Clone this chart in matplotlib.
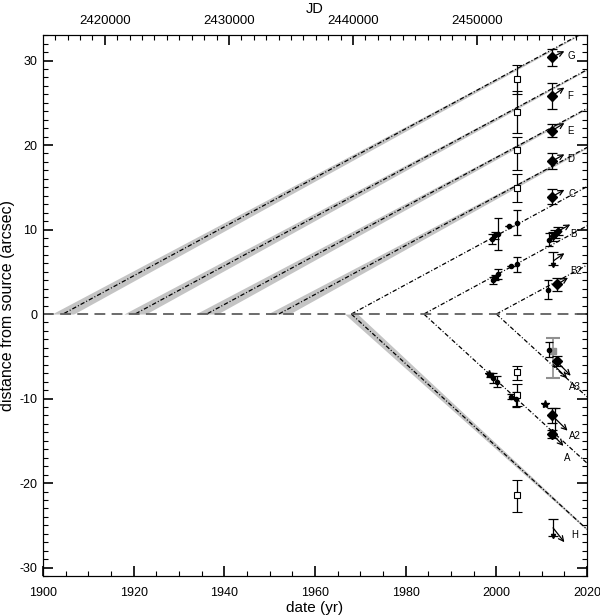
import numpy as np
import matplotlib
matplotlib.use('Agg')
import matplotlib.pyplot as plt
from matplotlib.ticker import MultipleLocator

plt.rcParams['font.family'] = ['Liberation Sans', 'DejaVu Sans']
plt.rcParams['axes.unicode_minus'] = False

# knot tracks: ejection year and proper motion (arcsec/yr)
t0_up = [1904.4, 1920.3, 1936.1, 1952.0, 1968.0, 1984.0, 2000.0]   # G F E D C B B2
band_up = [True, True, True, True, False, False, False]
mu_up = 0.29
t0_down = [1968.0, 1984.0, 2000.0]   # A(band) A A3
band_down = [True, False, False]
mu_down = -0.49

# open squares (epoch ~2004.5)
sq_x = [2004.5, 2004.5, 2004.5, 2004.5, 2004.5, 2004.5, 2004.5]
sq_y = [27.8, 23.9, 19.4, 14.9, -6.9, -9.6, -21.4]
sq_lo = [1.8, 2.5, 2.4, 1.6, 0.9, 1.3, 2.0]
sq_hi = [1.7, 2.5, 1.6, 1.7, 0.7, 1.3, 1.8]

# small filled dots
dot_x = [1999.0, 1999.6, 2000.4, 2002.8, 2004.6,
         1999.2, 1999.6, 2000.3, 2003.2, 2004.6,
         1998.5, 1999.3, 2000.1, 2003.2, 2004.4,
         2011.5, 2011.3, 2011.5]
dot_y = [8.9, 9.3, 9.5, 10.4, 10.8,
         4.0, 4.3, 4.7, 5.7, 5.9,
         -7.2, -7.6, -8.0, -9.8, -10.1,
         8.8, 2.9, -4.2]
dot_e = [0.6, 0.4, 1.9, 0.0, 1.5,
         0.4, 0.3, 0.6, 0.0, 0.9,
         0.2, 0.6, 0.65, 0.3, 0.9,
         0.8, 1.1, 0.9]

# diamonds (epoch ~2012)
dia_x = [2012.3, 2012.3, 2012.3, 2012.3, 2012.3, 2012.5, 2013.0, 2013.6,
         2013.4, 2013.3, 2012.3, 2012.3]
dia_y = [30.4, 25.8, 21.7, 18.1, 13.9, 9.2, 9.5, 9.8, 3.5, -5.6, -12.0, -14.2]
dia_e = [1.0, 1.5, 0.8, 0.9, 0.9, 0.5, 0.5, 0.5, 0.75, 0.6, 0.9, 0.5]
dia_ms = [5, 5, 5, 5, 5, 3.5, 3.5, 3.5, 5, 5, 5, 5]

# stars
star_x = [1998.4, 2010.8]
star_y = [-7.1, -10.6]

# gray measurement for A3
gray_x = [2012.6]
gray_y = [-4.4]
gray_lo = [3.2]
gray_hi = [1.6]

# bars with a point at the bottom
lim_x = [2012.5, 2012.5]
lim_y = [5.8, -26.3]
lim_hi = [1.5, 2.0]

# extra bar under A2
xb_x = [2013.0]
xb_lo = [-14.2]
xb_hi = [-11.1]

# motion arrows
arr_x0 = [2012.3, 2012.3, 2012.3, 2012.3, 2012.3, 2013.6, 2012.6, 2013.4,
          2012.6, 2013.3, 2012.3, 2012.3, 2012.5]
arr_y0 = [30.4, 25.8, 21.7, 18.1, 13.9, 9.8, 6.3, 3.5,
          -6.0, -5.6, -12.0, -14.2, -25.3]
arr_x1 = [2015.0, 2015.0, 2015.0, 2015.0, 2015.0, 2016.3, 2015.0, 2015.8,
          2015.6, 2016.4, 2015.7, 2014.8, 2015.0]
arr_y1 = [31.1, 26.8, 22.6, 18.9, 14.7, 10.6, 7.2, 4.3,
          -7.6, -7.3, -13.8, -15.6, -27.0]

lab_txt = ['G', 'F', 'E', 'D', 'C', 'B', 'B2', 'A3', 'A2', 'A', 'H']
lab_x = [2015.6, 2015.6, 2015.7, 2015.6, 2015.9, 2016.4, 2016.3, 2016.0, 2016.1, 2015.0, 2016.6]
lab_y = [30.5, 25.8, 21.7, 18.3, 14.2, 9.5, 5.1, -8.6, -14.4, -17.0, -26.1]


def jd(year):
    return 2451545.0 + (np.asarray(year) - 2000.0) * 365.25


fig = plt.figure(figsize=(6, 6.16), dpi=100)
ax = fig.add_axes([0.0717, 0.0649, 0.9067, 0.878])
ax.set_xlim(1900, 2020)
ax.set_ylim(-31, 33)

hw0 = 0.7
t_end = 2030.0
dd = (3.5, 1.6, 0.8, 1.6)

def track(t0, mu, band):
    t = np.linspace(t0 - hw0 / abs(mu), 2020, 400)
    y = mu * (t - t0)
    if band:
        hw = hw0 * (t_end - t) / (t_end - t0)
        if mu > 0:
            lo = np.clip(y - hw, 0, None)
            hi = np.clip(y + hw, 0, None)
        else:
            lo = np.clip(y - hw, None, 0)
            hi = np.clip(y + hw, None, 0)
        ax.fill_between(t, lo, hi, color='#c4c4c4', lw=0, zorder=1)
    m = t >= t0
    ax.plot(t[m], y[m], color='k', lw=0.9, dashes=dd, zorder=2)

for t0, b in zip(t0_up, band_up):
    track(t0, mu_up, b)
for t0, b in zip(t0_down, band_down):
    track(t0, mu_down, b)

ax.axhline(0, color='#606060', lw=1.3, dashes=(6, 3.5), zorder=2)

# data
ax.errorbar(sq_x, sq_y, yerr=[sq_lo, sq_hi], fmt='s', ms=4, mfc='white', mec='k',
            mew=0.8, ecolor='k', elinewidth=0.9, capsize=3.5, capthick=0.9, zorder=4)
ax.errorbar(dot_x, dot_y, yerr=dot_e, fmt='o', ms=3, color='k',
            elinewidth=0.9, capsize=3, capthick=0.9, zorder=4)
ax.errorbar(gray_x, gray_y, yerr=[gray_lo, gray_hi], fmt='s', ms=4, color='#909090',
            elinewidth=1.2, capsize=5, capthick=1.5, zorder=3)
for x, y, e, s in zip(dia_x, dia_y, dia_e, dia_ms):
    ax.errorbar([x], [y], yerr=[e], fmt='D', ms=s, color='k',
                elinewidth=0.9, capsize=3.5, capthick=0.9, zorder=5)
ax.plot(star_x, star_y, '*', ms=6, color='k', zorder=4)
ax.errorbar(lim_x, lim_y, yerr=[[0, 0], lim_hi], fmt='v', ms=3, color='k',
            elinewidth=0.9, capsize=3.5, capthick=0.9, zorder=4)
ax.vlines(xb_x, xb_lo, xb_hi, color='k', lw=0.9, zorder=4)
ax.plot(xb_x, xb_hi, '_', ms=7, mew=0.9, color='k', zorder=4)

for x0, y0, x1, y1 in zip(arr_x0, arr_y0, arr_x1, arr_y1):
    ax.annotate('', xy=(x1, y1), xytext=(x0, y0),
                arrowprops=dict(arrowstyle='->', lw=0.9, color='k',
                                shrinkA=0, shrinkB=0, mutation_scale=9), zorder=6)
for s, x, y in zip(lab_txt, lab_x, lab_y):
    ax.text(x, y, s, fontsize=7, ha='left', va='center', zorder=6)

# axes styling
ax.xaxis.set_major_locator(MultipleLocator(20))
ax.xaxis.set_minor_locator(MultipleLocator(5))
ax.yaxis.set_major_locator(MultipleLocator(10))
ax.yaxis.set_minor_locator(MultipleLocator(1))
ax.tick_params(which='both', direction='in', right=True, top=False, labelsize=9)
ax.tick_params(which='major', length=7, width=1.2)
ax.tick_params(which='minor', length=3.5, width=0.8)
ax.tick_params(axis='x', pad=8)
ax.tick_params(axis='y', pad=4)
ax.set_xlabel('date (yr)', fontsize=11, labelpad=1)
ax.set_ylabel('distance from source (arcsec)', fontsize=11.5)
ax.yaxis.set_label_coords(-0.051, 0.5)

ax2 = ax.twiny()
ax2.set_xlim(jd(1900), jd(2020))
ax2.set_xticks([2420000, 2430000, 2440000, 2450000])
ax2.xaxis.set_minor_locator(MultipleLocator(1000))
ax2.xaxis.set_major_formatter(plt.FuncFormatter(lambda v, p: '%d' % v))
ax2.tick_params(which='both', direction='in', labelsize=9.5, pad=6)
ax2.tick_params(which='major', length=7, width=1.2)
ax2.tick_params(which='minor', length=3.5, width=0.8)
ax2.set_xlabel('JD', fontsize=10.5, labelpad=1)

fig.savefig('out.png', dpi=100)
